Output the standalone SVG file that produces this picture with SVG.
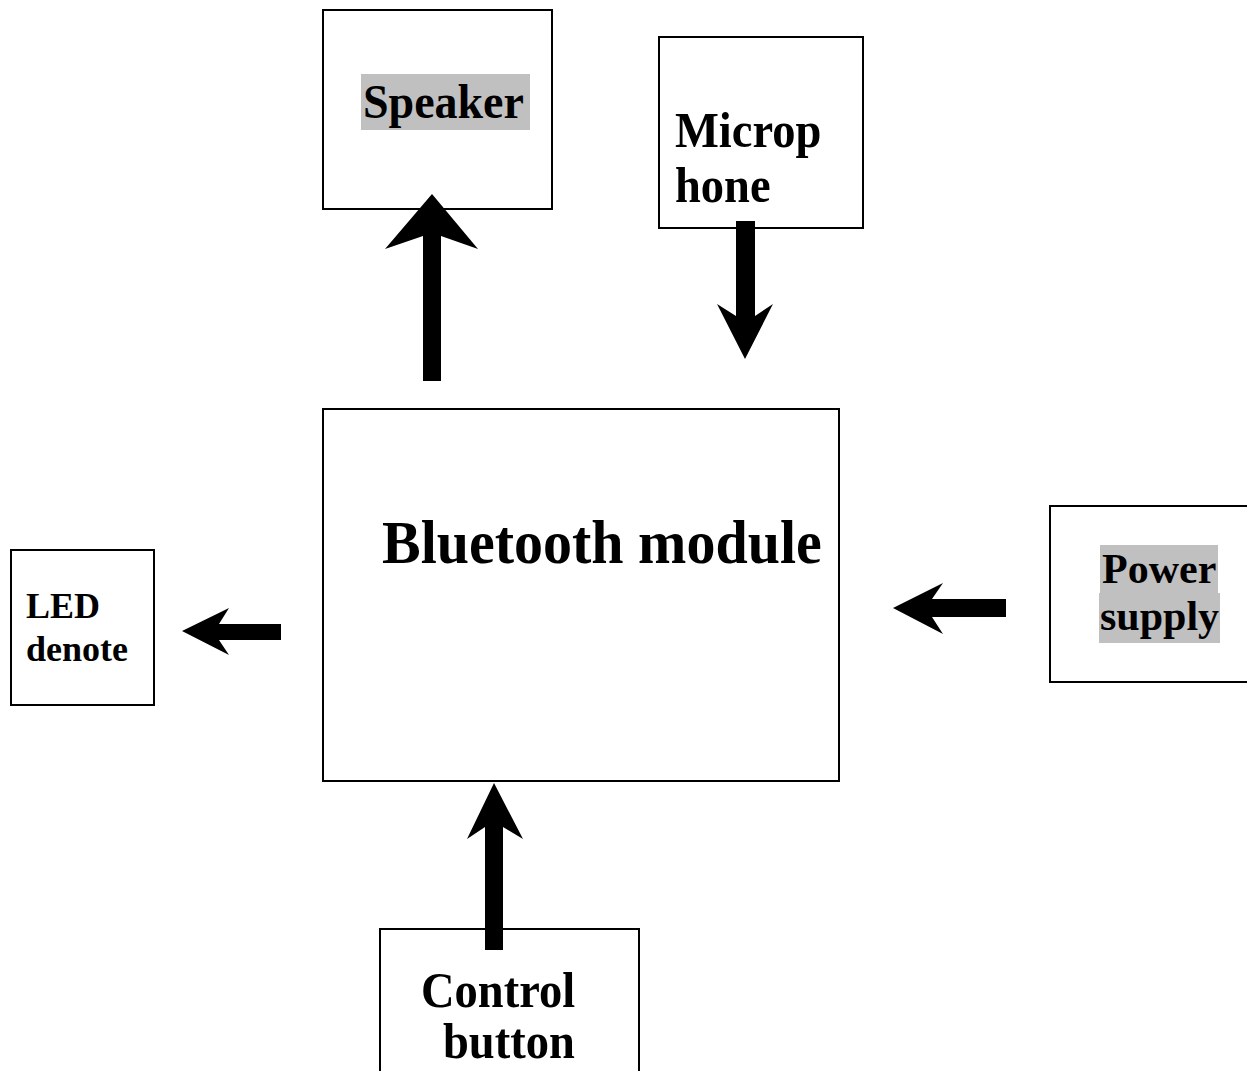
<svg xmlns="http://www.w3.org/2000/svg" width="1247" height="1071" viewBox="0 0 1247 1071">
<style>
.box{fill:#fff;stroke:#000;stroke-width:2}
.hl{fill:#c0c0c0}
.arr{fill:#000}
</style>
<rect width="1247" height="1071" fill="#fff"/>
<g font-family="Liberation Serif" font-weight="bold" fill="#000">
<g id="speaker">
<rect class="box" x="323" y="10" width="229" height="199"/>
<rect class="hl" x="361" y="74" width="169" height="56"/>
<text x="363" y="118" font-size="46" transform="matrix(1 0 0 1.07 0 -8.26)">Speaker</text>
</g>
<g id="microphone">
<rect class="box" x="659" y="37" width="204" height="191"/>
<text x="675" y="147" font-size="46.5" transform="matrix(1 0 0 1.07 0 -10.29)">Microp</text>
<text x="675" y="202" font-size="46.5" transform="matrix(1 0 0 1.07 0 -14.14)">hone</text>
</g>
<g id="bluetooth">
<rect class="box" x="323" y="409" width="516" height="372"/>
<text x="382" y="563" font-size="58" transform="matrix(1 0 0 1.07 0 -39.41)">Bluetooth module</text>
</g>
<g id="led">
<rect class="box" x="11" y="550" width="143" height="155"/>
<text x="26" y="618" font-size="36">LED</text>
<text x="26" y="661" font-size="36">denote</text>
</g>
<g id="power">
<rect class="box" x="1050" y="506" width="210" height="176"/>
<rect class="hl" x="1100" y="545" width="118" height="48"/>
<rect class="hl" x="1099" y="593" width="121" height="50"/>
<text x="1102" y="583" font-size="42">Power</text>
<text x="1100" y="630" font-size="42">supply</text>
</g>
<g id="control">
<rect class="box" x="380" y="929" width="259" height="160"/>
<text x="421" y="1007" font-size="46.5" transform="matrix(1 0 0 1.07 0 -70.49)">Control</text>
<text x="443" y="1058" font-size="46.5" transform="matrix(1 0 0 1.07 0 -74.06)">button</text>
</g>
</g>
<g id="connectors">
<polygon class="arr" points="423,381 423,236 385,249 432,194 478,249 441,236 441,381"/>
<polygon class="arr" points="736,221 755,221 755,316 773,304 745,359 717,304 736,316"/>
<polygon class="arr" points="281,624 219,624 229,608 182,631 229,655 219,640 281,640"/>
<polygon class="arr" points="1006,599 932,599 943,583 893,608 943,634 932,617 1006,617"/>
<polygon class="arr" points="485,950 485,827 467,839 494,783 523,839 503,827 503,950"/>
</g>
</svg>
